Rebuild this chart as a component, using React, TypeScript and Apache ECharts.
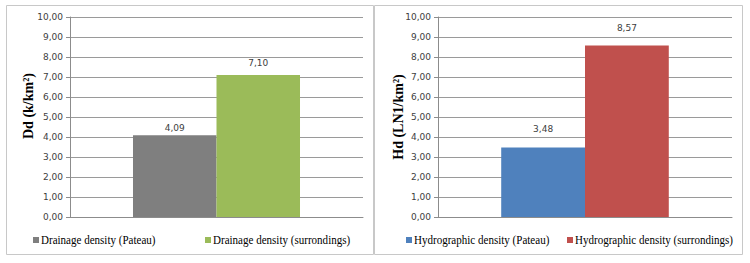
import React, { useEffect, useRef } from "react";
import * as echarts from "echarts";

const categories = [""];
const drainagePlateau = [4.09];
const drainageSurroundings = [7.1];
const hydroPlateau = [3.48];
const hydroSurroundings = [8.57];
const leftSeriesNames = ["Drainage density (Pateau)", "Drainage density (surrondings)"];
const rightSeriesNames = ["Hydrographic density (Pateau)", "Hydrographic density (surrondings)"];
const leftAxisTitle = "Dd (k/km²)";
const rightAxisTitle = "Hd (LN1/km²)";

const colors = ["#7f7f7f", "#9bbb59", "#4f81bd", "#c0504d"];
const SERIF = "'Liberation Serif', 'Times New Roman', serif";

const fmt = (v: number) => v.toFixed(2).replace(".", ",");

export default function App() {
  const ref = useRef<HTMLDivElement>(null);
  useEffect(() => {
    if (!ref.current) return;
    const chart = echarts.init(ref.current, null, { renderer: "svg" });
    const tickFont = { fontFamily: "DejaVu Sans", fontSize: 9, color: "#404040" };
    const yAxisBase = (gridIndex: number) => ({
      type: "value",
      gridIndex,
      min: 0,
      max: 10,
      interval: 1,
      axisLine: { show: true, lineStyle: { color: "#8c8c8c", width: 1 } },
      axisTick: { show: true, length: 4, lineStyle: { color: "#8c8c8c" } },
      axisLabel: { ...tickFont, margin: 7, formatter: (v: number) => fmt(v) },
      splitLine: { show: true, lineStyle: { color: "#9a9a9a", width: 1 } },
    });
    const xAxisBase = (gridIndex: number) => ({
      type: "category",
      gridIndex,
      data: categories,
      axisLine: { show: true, lineStyle: { color: "#8c8c8c", width: 1 } },
      axisTick: { show: false },
      axisLabel: { show: false },
    });
    const barSeries = (name: string, data: number[], color: string, idx: number, dist: number) => ({
      type: "bar",
      name,
      data,
      xAxisIndex: idx,
      yAxisIndex: idx,
      barGap: "0%",
      barCategoryGap: "43%",
      itemStyle: { color },
      label: {
        show: true,
        position: "top",
        distance: dist,
        ...tickFont,
        formatter: (p: any) => fmt(p.value),
      },
    });
    const legendItem = (name: string, color: string, x: number) => [
      {
        type: "rect",
        shape: { x, y: 237, width: 6, height: 6 },
        style: { fill: color },
        silent: true,
      },
      {
        type: "text",
        x: x + 8,
        y: 240,
        scaleX: 0.92,
        style: {
          text: name,
          fontFamily: SERIF,
          fontSize: 12,
          fill: "#000",
          textAlign: "left",
          textVerticalAlign: "middle",
        },
        silent: true,
      },
    ];
    chart.setOption({
      animation: false,
      backgroundColor: "#ffffff",
      grid: [
        { left: 70, top: 17, width: 293, height: 200 },
        { left: 438, top: 17, width: 294, height: 200 },
      ],
      xAxis: [xAxisBase(0), xAxisBase(1)],
      yAxis: [yAxisBase(0), yAxisBase(1)],
      series: [
        barSeries(leftSeriesNames[0], drainagePlateau, colors[0], 0, 3),
        barSeries(leftSeriesNames[1], drainageSurroundings, colors[1], 0, 8),
        barSeries(rightSeriesNames[0], hydroPlateau, colors[2], 1, 14),
        barSeries(rightSeriesNames[1], hydroSurroundings, colors[3], 1, 13),
      ],
      graphic: [
        {
          type: "rect",
          shape: { x: 6.5, y: 5.5, width: 367, height: 249 },
          style: { fill: "none", stroke: "#c8c8c8", lineWidth: 1 },
          silent: true,
          z: -1,
        },
        {
          type: "rect",
          shape: { x: 374.5, y: 5.5, width: 368, height: 249 },
          style: { fill: "none", stroke: "#c8c8c8", lineWidth: 1 },
          silent: true,
          z: -1,
        },
        ...legendItem(leftSeriesNames[0], colors[0], 33),
        ...legendItem(leftSeriesNames[1], colors[1], 205),
        ...legendItem(rightSeriesNames[0], colors[2], 406),
        ...legendItem(rightSeriesNames[1], colors[3], 567),
        {
          type: "text",
          x: 28,
          y: 106,
          rotation: Math.PI / 2,
          style: {
            text: leftAxisTitle,
            fontFamily: SERIF,
            fontWeight: "bold",
            fontSize: 14,
            fill: "#000",
            textAlign: "center",
            textVerticalAlign: "middle",
          },
        },
        {
          type: "text",
          x: 398,
          y: 117,
          rotation: Math.PI / 2,
          style: {
            text: rightAxisTitle,
            fontFamily: SERIF,
            fontWeight: "bold",
            fontSize: 14,
            fill: "#000",
            textAlign: "center",
            textVerticalAlign: "middle",
          },
        },
      ],
    });
    return () => chart.dispose();
  }, []);
  return (
    <div
      ref={ref}
      style={{ position: "absolute", left: 0, top: 0, width: 750, height: 263 }}
    />
  );
}
